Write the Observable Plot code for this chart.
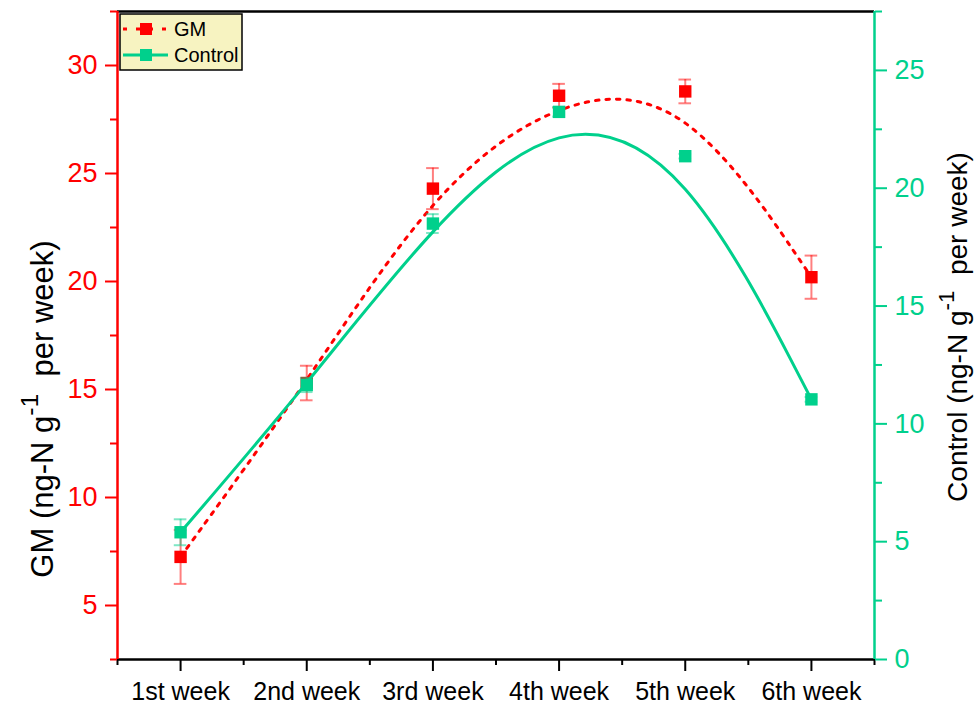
<!DOCTYPE html>
<html><head><meta charset="utf-8">
<script src="https://cdn.jsdelivr.net/npm/d3@7"></script>
<script src="https://cdn.jsdelivr.net/npm/@observablehq/plot@0.6"></script>
<style>body{margin:0;background:#fff}</style>
</head><body><div id="chart"></div>
<script>
const weeks = ["1st week","2nd week","3rd week","4th week","5th week","6th week"];
const gmValues = [7.25, 15.3, 24.3, 28.6, 28.8, 20.2];
const gmErrors = [1.25, 0.8, 0.95, 0.55, 0.55, 1.0];
const controlValues = [5.4, 11.65, 18.5, 23.24, 21.36, 11.04];
const controlErrors = [0.55, 0.3, 0.4, 0.2, 0.1, 0.1];
const gmTicks = [5, 10, 15, 20, 25, 30];
const gmMinorTicks = [2.5, 7.5, 12.5, 17.5, 22.5, 27.5, 32.5];
const controlTicks = [0, 5, 10, 15, 20, 25];
const controlMinorTicks = [2.5, 7.5, 12.5, 17.5, 22.5, 27.5];
const gmDomain = [2.5, 32.5];
const controlDomain = [0, 27.5];

const RED = "#ff0000", GREEN = "#00d08c";
const FONT = "Arial, 'Liberation Sans', sans-serif";
const toGM = c => gmDomain[0] + (c - controlDomain[0]) * (gmDomain[1] - gmDomain[0]) / (controlDomain[1] - controlDomain[0]);
const fromGM = v => controlDomain[0] + (v - gmDomain[0]) * (controlDomain[1] - controlDomain[0]) / (gmDomain[1] - gmDomain[0]);

const pos = weeks.map((w, i) => i + 1);
const minorX = [0.5, ...pos.map(p => p + 0.5)];
const cap = 0.05;

const gm = weeks.map((w, i) => ({i: i + 1, v: gmValues[i], lo: gmValues[i] - gmErrors[i], hi: gmValues[i] + gmErrors[i]}));
const ctl = weeks.map((w, i) => ({i: i + 1, v: toGM(controlValues[i]), lo: toGM(controlValues[i] - controlErrors[i]), hi: toGM(controlValues[i] + controlErrors[i])}));

function errorMarks(data, color) {
  return [
    Plot.ruleX(data, {x: "i", y1: "lo", y2: "hi", stroke: color, strokeOpacity: 0.5, strokeWidth: 2}),
    Plot.ruleY(data, {y: "hi", x1: d => d.i - cap, x2: d => d.i + cap, stroke: color, strokeOpacity: 0.5, strokeWidth: 2}),
    Plot.ruleY(data, {y: "lo", x1: d => d.i - cap, x2: d => d.i + cap, stroke: color, strokeOpacity: 0.5, strokeWidth: 2})
  ];
}

const plot = Plot.plot({
  width: 976, height: 709,
  marginLeft: 117, marginRight: 102, marginTop: 11, marginBottom: 50,
  style: {fontFamily: FONT, fontSize: "26px", background: "white", overflow: "visible"},
  x: {domain: [0.5, 6.5]},
  y: {domain: gmDomain},
  marks: [
    // axes
    Plot.axisX({ticks: pos, tickFormat: p => weeks[p - 1], tickSize: 12, tickPadding: 11, strokeWidth: 2, color: "black", fontSize: 25, label: null}),
    Plot.axisX({ticks: minorX, tickFormat: () => "", tickSize: 6, strokeWidth: 2, color: "black", label: null}),
    Plot.axisY({anchor: "left", ticks: gmTicks, tickSize: 12, tickPadding: 8, strokeWidth: 2, color: RED, fontSize: 27, label: null}),
    Plot.axisY({anchor: "left", ticks: gmMinorTicks, tickFormat: () => "", tickSize: 7, strokeWidth: 2, color: RED, label: null}),
    Plot.axisY({anchor: "right", ticks: controlTicks.map(toGM), tickFormat: v => String(Math.round(fromGM(v))), tickSize: 12, tickPadding: 8, strokeWidth: 2, color: GREEN, fontSize: 27, label: null}),
    Plot.axisY({anchor: "right", ticks: controlMinorTicks.map(toGM), tickFormat: () => "", tickSize: 7, strokeWidth: 2, color: GREEN, label: null}),
    // frame lines
    Plot.ruleY([gmDomain[1]], {stroke: "black", strokeWidth: 2.5}),
    Plot.ruleY([gmDomain[0]], {stroke: "black", strokeWidth: 2.5}),
    Plot.ruleX([0.5], {stroke: RED, strokeWidth: 2.5}),
    Plot.ruleX([6.5], {stroke: GREEN, strokeWidth: 2.5}),
    // GM series
    ...errorMarks(gm, RED),
    Plot.line(gm, {x: "i", y: "v", curve: "basis", stroke: RED, strokeWidth: 3, strokeDasharray: "3.5,7"}),
    Plot.dot(gm, {x: "i", y: "v", symbol: "square", r: 7, fill: RED, stroke: "none"}),
    // Control series
    ...errorMarks(ctl, GREEN),
    Plot.line(ctl, {x: "i", y: "v", curve: "basis", stroke: GREEN, strokeWidth: 3}),
    Plot.dot(ctl, {x: "i", y: "v", symbol: "square", r: 7, fill: GREEN, stroke: "none"})
  ]
});
document.getElementById("chart").appendChild(plot);

const svg = d3.select(plot);
// axis titles
function title(x, y, size, main, sup, rest, color) {
  const t = svg.append("text").attr("transform", `translate(${x},${y}) rotate(-90)`)
    .attr("text-anchor", "middle").attr("font-family", FONT).attr("font-size", size).attr("fill", color);
  t.append("tspan").text(main);
  t.append("tspan").attr("font-size", size * 0.8).attr("dy", -size * 0.47).text(sup);
  t.append("tspan").attr("dy", size * 0.47).text(rest);
}
title(53, 409, 31, "GM (ng-N g", "-1", "  per week)", "black");
title(967, 327, 28, "Control (ng-N g", "-1", "  per week)", "black");

// legend
const legendSeries = [
  {name: "GM", color: RED, dash: "4,9"},
  {name: "Control", color: GREEN, dash: null}
];
const lg = svg.append("g");
lg.append("rect").attr("x", 120).attr("y", 14).attr("width", 122).attr("height", 56)
  .attr("fill", "#f7f3c1").attr("stroke", "black").attr("stroke-width", 1.5);
legendSeries.forEach((s, k) => {
  const cy = 29 + k * 26;
  const ln = lg.append("line").attr("x1", 123).attr("x2", 168).attr("y1", cy).attr("y2", cy)
    .attr("stroke", s.color).attr("stroke-width", 3);
  if (s.dash) ln.attr("stroke-dasharray", s.dash);
  lg.append("rect").attr("x", 140).attr("y", cy - 6).attr("width", 12).attr("height", 12).attr("fill", s.color);
  lg.append("text").attr("x", 174).attr("y", cy + 7).attr("text-anchor", "start")
    .attr("font-family", FONT).attr("font-size", 20).attr("fill", "black").text(s.name);
});
</script>
</body></html>
